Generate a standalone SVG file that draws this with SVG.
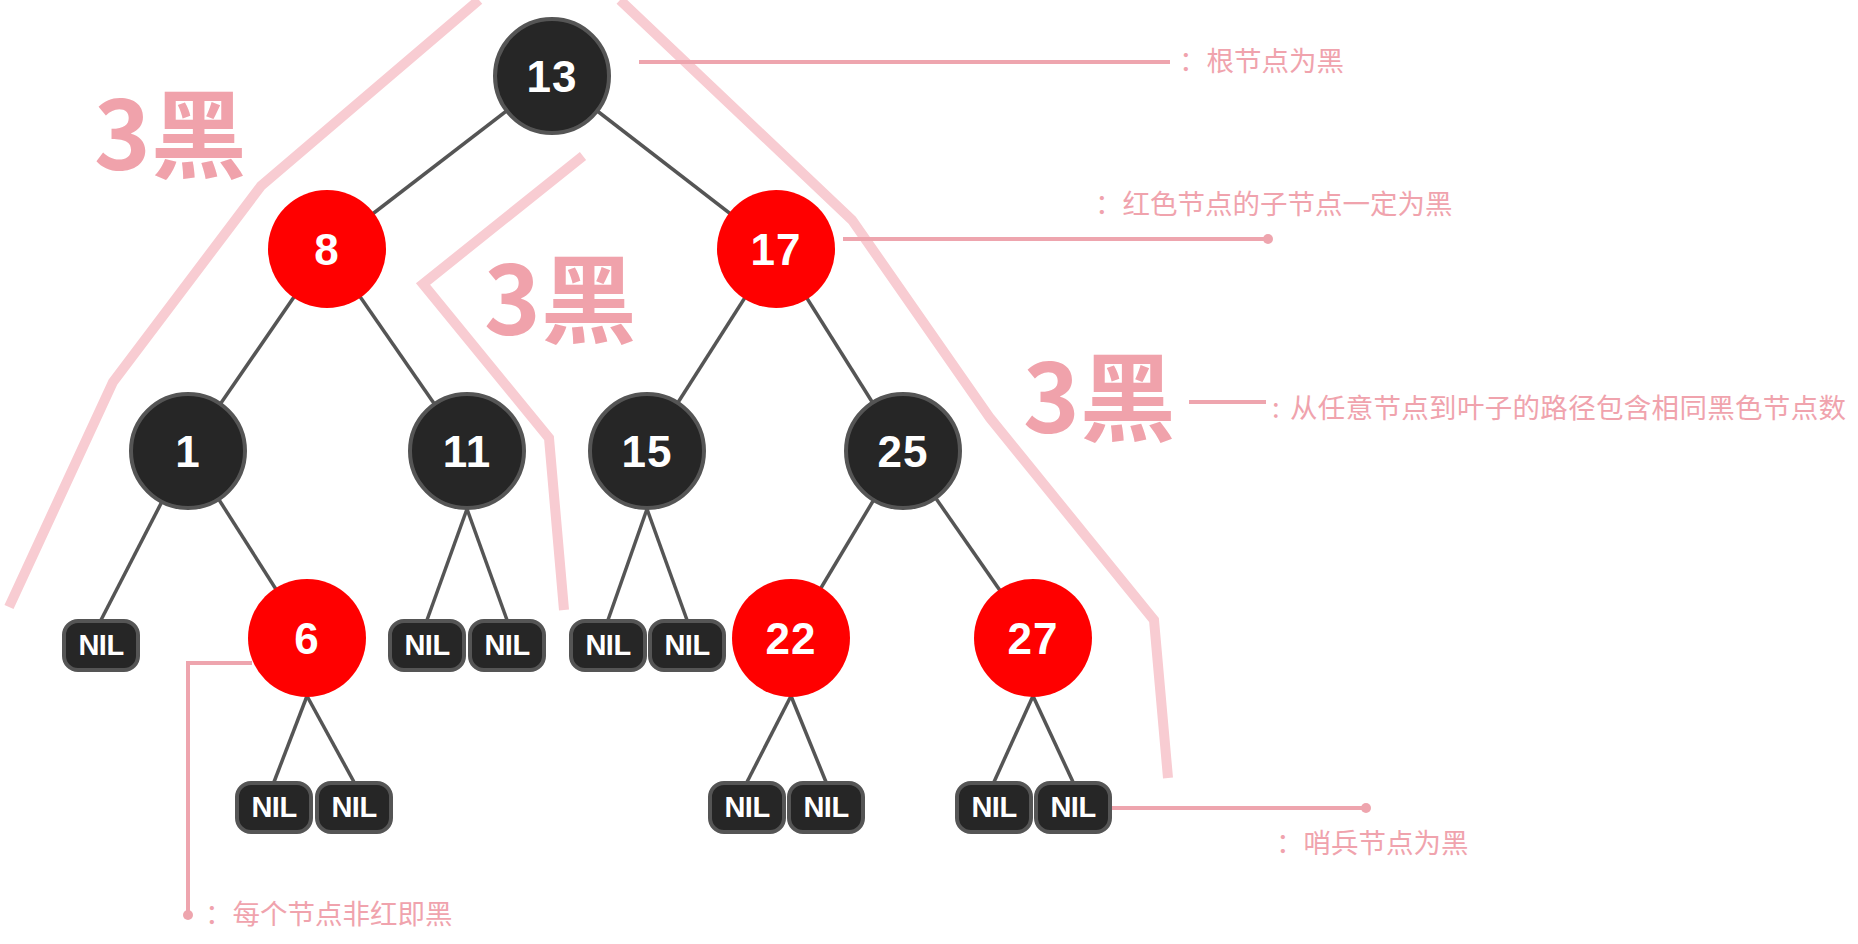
<svg xmlns="http://www.w3.org/2000/svg" width="1858" height="944" viewBox="0 0 1858 944">
<style>
.bk{fill:#262626;stroke:#555;stroke-width:4}
.rd{fill:#ff0000}
.nt{fill:#fff;font-family:"Liberation Sans",Arial,sans-serif;font-weight:bold;font-size:44px;text-anchor:middle;letter-spacing:1px}
.nil{fill:#262626;stroke:#555;stroke-width:4}
.nl{fill:#fff;font-family:"Liberation Sans",Arial,sans-serif;font-weight:bold;font-size:29px;text-anchor:middle;letter-spacing:-0.5px}
.edge{stroke:#555;stroke-width:3.5;fill:none}
.band{stroke:#f8ccd2;stroke-width:10;fill:none;stroke-linejoin:miter}
.call{stroke:#eea5ae;stroke-width:4;fill:none}
.dot{fill:#eea5ae}
.lab{fill:#f0a3ad;font-family:"Noto Sans CJK SC","Noto Sans",sans-serif;font-size:27.5px}
.big{fill:#f0a2ab;font-family:"Noto Sans CJK SC","Noto Sans",sans-serif;font-size:96px;font-weight:bold}
</style>
<g id="bands">
<polyline class="band" points="479,0 261,186 113,382 9,607"/>
<polyline class="band" points="583,156 423,284 549,438 564,610"/>
<polyline class="band" points="620,0 852,220 990,418 1154,620 1168,778"/>
</g>
<g id="connectors">
<line class="edge" x1="552" y1="76" x2="327" y2="249"/>
<line class="edge" x1="552" y1="76" x2="776" y2="249"/>
<line class="edge" x1="327" y1="249" x2="188" y2="451"/>
<line class="edge" x1="327" y1="249" x2="467" y2="451"/>
<line class="edge" x1="776" y1="249" x2="647" y2="451"/>
<line class="edge" x1="776" y1="249" x2="903" y2="451"/>
<line class="edge" x1="188" y1="451" x2="101" y2="620"/>
<line class="edge" x1="188" y1="451" x2="307" y2="638"/>
<line class="edge" x1="467" y1="509" x2="427" y2="620"/>
<line class="edge" x1="467" y1="509" x2="507" y2="620"/>
<line class="edge" x1="647" y1="509" x2="608" y2="620"/>
<line class="edge" x1="647" y1="509" x2="687" y2="620"/>
<line class="edge" x1="903" y1="451" x2="791" y2="638"/>
<line class="edge" x1="903" y1="451" x2="1033" y2="638"/>
<line class="edge" x1="307" y1="696" x2="274" y2="782"/>
<line class="edge" x1="307" y1="696" x2="354" y2="782"/>
<line class="edge" x1="791" y1="696" x2="747" y2="782"/>
<line class="edge" x1="791" y1="696" x2="826" y2="782"/>
<line class="edge" x1="1033" y1="696" x2="994" y2="782"/>
<line class="edge" x1="1033" y1="696" x2="1073" y2="782"/>
<line class="call" x1="639" y1="62" x2="1170" y2="62"/>
<line class="call" x1="843" y1="239" x2="1268" y2="239"/>
<circle class="dot" cx="1268" cy="239" r="5"/>
<line class="call" x1="1189" y1="402" x2="1266" y2="402"/>
<polyline class="call" points="252,663 188,663 188,915"/>
<circle class="dot" cx="188" cy="915" r="5"/>
<line class="call" x1="1112" y1="808" x2="1366" y2="808"/>
<circle class="dot" cx="1366" cy="808" r="5"/>
</g>
<g id="n13"><circle class="bk" cx="552" cy="76" r="57"/><text class="nt" x="552" y="92">13</text></g>
<g id="n8"><circle class="rd" cx="327" cy="249" r="59"/><text class="nt" x="327" y="265">8</text></g>
<g id="n17"><circle class="rd" cx="776" cy="249" r="59"/><text class="nt" x="776" y="265">17</text></g>
<g id="n1"><circle class="bk" cx="188" cy="451" r="57"/><text class="nt" x="188" y="467">1</text></g>
<g id="n11"><circle class="bk" cx="467" cy="451" r="57"/><text class="nt" x="467" y="467">11</text></g>
<g id="n15"><circle class="bk" cx="647" cy="451" r="57"/><text class="nt" x="647" y="467">15</text></g>
<g id="n25"><circle class="bk" cx="903" cy="451" r="57"/><text class="nt" x="903" y="467">25</text></g>
<g id="n6"><circle class="rd" cx="307" cy="638" r="59"/><text class="nt" x="307" y="654">6</text></g>
<g id="n22"><circle class="rd" cx="791" cy="638" r="59"/><text class="nt" x="791" y="654">22</text></g>
<g id="n27"><circle class="rd" cx="1033" cy="638" r="59"/><text class="nt" x="1033" y="654">27</text></g>
<g id="nil1"><rect class="nil" x="64" y="621" width="74" height="49" rx="14"/><text class="nl" x="101" y="655">NIL</text></g>
<g id="nil11a"><rect class="nil" x="390" y="621" width="74" height="49" rx="14"/><text class="nl" x="427" y="655">NIL</text></g>
<g id="nil11b"><rect class="nil" x="470" y="621" width="74" height="49" rx="14"/><text class="nl" x="507" y="655">NIL</text></g>
<g id="nil15a"><rect class="nil" x="571" y="621" width="74" height="49" rx="14"/><text class="nl" x="608" y="655">NIL</text></g>
<g id="nil15b"><rect class="nil" x="650" y="621" width="74" height="49" rx="14"/><text class="nl" x="687" y="655">NIL</text></g>
<g id="nil6a"><rect class="nil" x="237" y="783" width="74" height="49" rx="14"/><text class="nl" x="274" y="817">NIL</text></g>
<g id="nil6b"><rect class="nil" x="317" y="783" width="74" height="49" rx="14"/><text class="nl" x="354" y="817">NIL</text></g>
<g id="nil22a"><rect class="nil" x="710" y="783" width="74" height="49" rx="14"/><text class="nl" x="747" y="817">NIL</text></g>
<g id="nil22b"><rect class="nil" x="789" y="783" width="74" height="49" rx="14"/><text class="nl" x="826" y="817">NIL</text></g>
<g id="nil27a"><rect class="nil" x="957" y="783" width="74" height="49" rx="14"/><text class="nl" x="994" y="817">NIL</text></g>
<g id="nil27b"><rect class="nil" x="1036" y="783" width="74" height="49" rx="14"/><text class="nl" x="1073" y="817">NIL</text></g>
<g id="labels">
<text class="big" x="94" y="170">3黑</text>
<text class="big" x="484" y="335">3黑</text>
<text class="big" x="1023" y="433">3黑</text>
<text class="lab" x="1179" y="71">：根节点为黑</text>
<text class="lab" x="1095" y="214">：红色节点的子节点一定为黑</text>
<text class="lab" y="418"><tspan x="1272">:</tspan><tspan x="1290" textLength="556" lengthAdjust="spacing">从任意节点到叶子的路径包含相同黑色节点数</tspan></text>
<text class="lab" x="205" y="924">：每个节点非红即黑</text>
<text class="lab" x="1276" y="853">：哨兵节点为黑</text>
</g>
</svg>
